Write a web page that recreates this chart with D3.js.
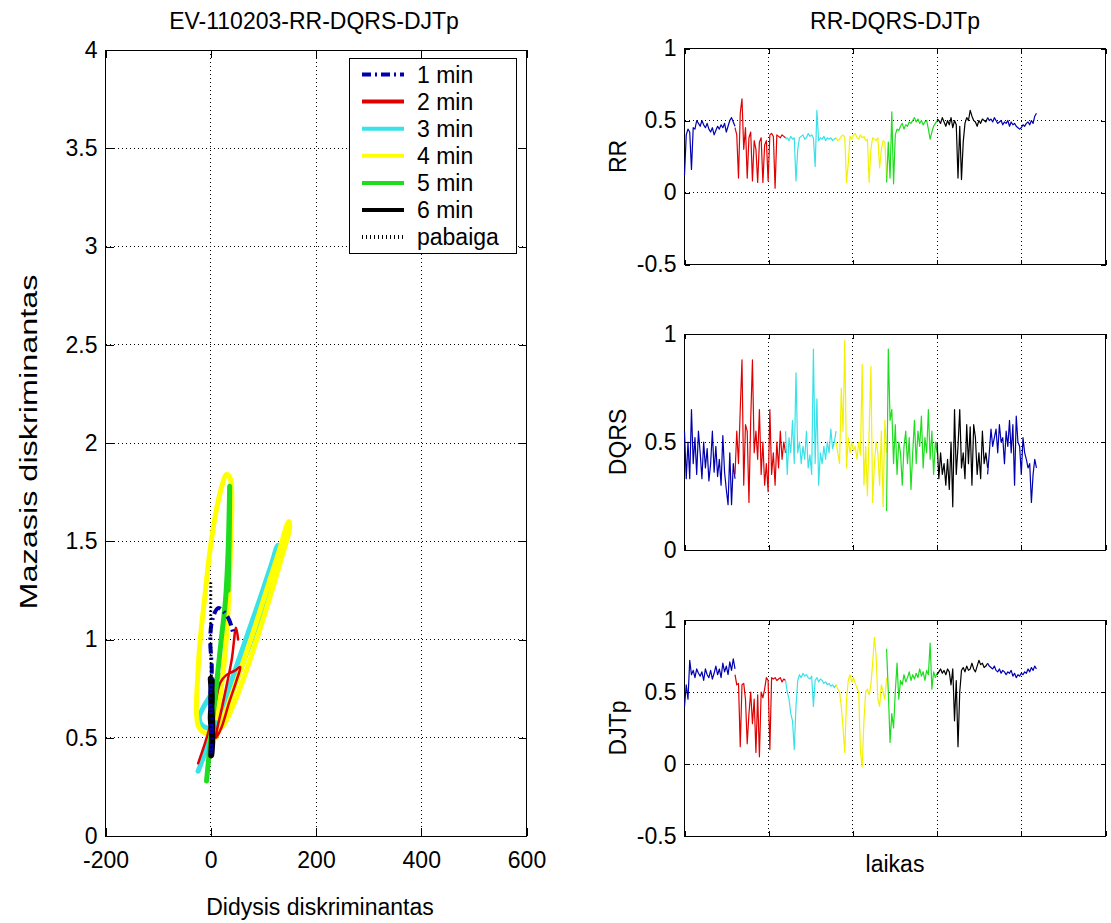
<!DOCTYPE html>
<html>
<head>
<meta charset="utf-8">
<script src="https://cdn.jsdelivr.net/npm/d3@7"></script>
<style>
  html, body { margin: 0; padding: 0; background: #fff; }
  svg { display: block; font-family: "Liberation Sans", Arial, sans-serif; }
</style>
</head>
<body>
<svg id="chart" width="1111" height="923"></svg>
<script>
// ---------------- DATA ----------------
const minuteLabels = ["1 min", "2 min", "3 min", "4 min", "5 min", "6 min", "pabaiga"];
const minuteColors = ["#0000b0", "#e00000", "#38e2e8", "#ffff00", "#1edc1e", "#000000", "#000000"];
const seriesColors = ["#0000b0", "#e00000", "#38e2e8", "#f2f200", "#1edc1e", "#000000", "#0000b0"];

// left panel: discriminant trajectories [Didysis, Mazasis]
const traj1 = [[0,0.42],[2,0.55],[-1,0.70],[2,0.85],[-1,1.00],[3,1.10],[14,1.16],[25,1.14],[35,1.10],[42,1.04]];
const traj2 = [[-24,0.37],[-10,0.48],[5,0.62],[18,0.78],[30,0.82],[45,0.84],[56,0.86],[50,0.80],[35,0.68],[20,0.55],[10,0.50],[25,0.70],[40,0.90],[48,1.06],[52,1.00]];
const traj3 = [[-24,0.33],[0,0.50],[30,0.72],[60,0.95],[90,1.18],[115,1.38],[128,1.48],[132,1.45],[110,1.25],[80,1.02],[50,0.80],[25,0.63],[5,0.55],[-15,0.56],[-22,0.60],[-15,0.65],[0,0.72],[15,0.82]];
const traj4 = [[10,0.50],[40,0.72],[70,0.95],[100,1.20],[130,1.45],[148,1.60],[150,1.57],[135,1.42],[105,1.15],[75,0.90],[45,0.68],[20,0.55],[-5,0.52],[-22,0.55],[-27,0.62],[-25,0.80],[-20,1.00],[-12,1.20],[-3,1.42],[8,1.62],[20,1.77],[30,1.84],[37,1.82],[40,1.72],[38,1.50],[34,1.20],[28,0.95],[20,0.75],[12,0.60]];
const traj5 = [[-8,0.28],[0,0.50],[10,0.75],[20,1.00],[28,1.20],[33,1.45],[35,1.65],[36,1.78],[35,1.50],[33,1.25]];
const traj6 = [[0,0.80],[2,0.70],[0,0.60],[3,0.50],[1,0.41],[3,0.55],[1,0.68],[2,0.79]];
const trajEnd = [[0,1.29],[0,1.00],[1,0.80],[0,0.60],[0,0.40]];

// right panels: time (s) segments
const segStart = [0, 60, 120, 180, 240, 300, 360];
const segEnd   = [60, 120, 180, 240, 300, 360, 418];

const rr1 = [0.12,0.40,0.44,0.42,0.16,0.45,0.44,0.50,0.48,0.46,0.50,0.47,0.45,0.48,0.44,0.42,0.45,0.40,0.43,0.46,0.44,0.47,0.45,0.48,0.42,0.46,0.50,0.52,0.49,0.46];
const rr2 = [0.45,0.40,0.10,0.55,0.65,0.30,0.45,0.10,0.38,0.42,0.08,0.36,0.30,0.07,0.35,0.38,0.07,0.33,0.36,0.08,0.40,0.41,0.39,0.03,0.40,0.39,0.38,0.40,0.39,0.38];
const rr3 = [0.37,0.38,0.36,0.39,0.37,0.38,0.08,0.30,0.38,0.39,0.40,0.37,0.38,0.41,0.39,0.40,0.38,0.18,0.57,0.36,0.38,0.37,0.39,0.36,0.38,0.37,0.38,0.36,0.37,0.38];
const rr4 = [0.38,0.36,0.37,0.39,0.40,0.38,0.07,0.20,0.39,0.37,0.40,0.41,0.38,0.37,0.40,0.38,0.39,0.36,0.37,0.07,0.30,0.38,0.37,0.36,0.38,0.17,0.30,0.36,0.35,0.10];
const rr5 = [0.07,0.35,0.10,0.56,0.06,0.40,0.44,0.43,0.46,0.48,0.44,0.47,0.46,0.49,0.48,0.50,0.52,0.49,0.51,0.48,0.50,0.47,0.49,0.50,0.44,0.37,0.42,0.46,0.48,0.50];
const rr6 = [0.51,0.50,0.48,0.52,0.49,0.46,0.50,0.47,0.52,0.45,0.50,0.47,0.10,0.46,0.09,0.35,0.48,0.52,0.50,0.57,0.53,0.50,0.49,0.46,0.50,0.48,0.51,0.50,0.49,0.52];
const rr7 = [0.52,0.50,0.51,0.49,0.52,0.50,0.48,0.49,0.50,0.47,0.49,0.48,0.50,0.46,0.49,0.47,0.48,0.46,0.45,0.44,0.45,0.47,0.46,0.48,0.49,0.47,0.50,0.48,0.53,0.55];

const dq1 = [0.55,0.33,0.50,0.33,0.65,0.40,0.52,0.35,0.55,0.45,0.33,0.50,0.38,0.47,0.32,0.40,0.55,0.36,0.48,0.34,0.42,0.30,0.53,0.36,0.28,0.21,0.45,0.21,0.40,0.33];
const dq2 = [0.35,0.55,0.40,0.65,0.88,0.30,0.58,0.55,0.22,0.60,0.88,0.45,0.55,0.42,0.65,0.35,0.50,0.30,0.40,0.27,0.65,0.35,0.45,0.30,0.50,0.38,0.55,0.42,0.50,0.45];
const dq3 = [0.55,0.35,0.52,0.45,0.60,0.40,0.82,0.45,0.50,0.40,0.48,0.42,0.55,0.38,0.44,0.35,0.93,0.40,0.70,0.30,0.45,0.40,0.48,0.42,0.50,0.45,0.56,0.47,0.50,0.55];
const dq4 = [0.50,0.45,0.40,0.75,0.55,0.97,0.38,0.52,0.45,0.50,0.46,0.48,0.42,0.50,0.44,0.86,0.30,0.48,0.25,0.55,0.85,0.22,0.40,0.50,0.45,0.30,0.55,0.20,0.60,0.45];
const dq5 = [0.18,0.93,0.60,0.65,0.40,0.58,0.35,0.50,0.45,0.30,0.48,0.55,0.40,0.52,0.28,0.45,0.60,0.40,0.55,0.48,0.62,0.38,0.52,0.45,0.65,0.42,0.55,0.35,0.50,0.45];
const dq6 = [0.50,0.33,0.45,0.35,0.40,0.30,0.42,0.28,0.50,0.20,0.65,0.35,0.48,0.65,0.38,0.45,0.33,0.58,0.40,0.57,0.30,0.58,0.52,0.35,0.45,0.33,0.55,0.40,0.45,0.38];
const dq7 = [0.35,0.45,0.56,0.48,0.52,0.56,0.45,0.58,0.50,0.52,0.40,0.55,0.48,0.60,0.45,0.58,0.30,0.62,0.50,0.48,0.35,0.52,0.45,0.42,0.38,0.40,0.22,0.35,0.42,0.38];

const dj1 = [0.40,0.55,0.45,0.72,0.62,0.65,0.60,0.66,0.63,0.61,0.64,0.58,0.66,0.62,0.60,0.65,0.59,0.63,0.68,0.62,0.66,0.60,0.70,0.64,0.68,0.62,0.71,0.65,0.73,0.66];
const dj2 = [0.62,0.55,0.56,0.12,0.55,0.56,0.45,0.14,0.35,0.50,0.28,0.45,0.08,0.48,0.05,0.50,0.46,0.52,0.60,0.58,0.10,0.60,0.59,0.60,0.58,0.59,0.60,0.57,0.59,0.58];
const dj3 = [0.58,0.50,0.45,0.35,0.30,0.10,0.40,0.58,0.62,0.60,0.63,0.61,0.62,0.60,0.59,0.61,0.40,0.58,0.60,0.57,0.59,0.58,0.56,0.57,0.55,0.56,0.54,0.55,0.53,0.55];
const dj4 = [0.55,0.52,0.50,0.40,0.25,0.08,0.45,0.58,0.62,0.57,0.60,0.56,0.53,0.50,0.08,-0.02,0.30,0.50,0.52,0.48,0.55,0.70,0.88,0.75,0.45,0.40,0.55,0.50,0.45,0.60];
const dj5 = [0.80,0.50,0.15,0.35,0.25,0.50,0.70,0.45,0.58,0.55,0.62,0.57,0.60,0.64,0.58,0.62,0.59,0.63,0.60,0.66,0.61,0.64,0.58,0.65,0.62,0.84,0.52,0.64,0.60,0.63];
const dj6 = [0.62,0.64,0.66,0.63,0.65,0.62,0.66,0.64,0.55,0.66,0.30,0.58,0.12,0.50,0.65,0.67,0.64,0.68,0.65,0.66,0.70,0.66,0.64,0.68,0.72,0.69,0.70,0.67,0.68,0.70];
const dj7 = [0.70,0.68,0.67,0.66,0.68,0.65,0.64,0.66,0.63,0.65,0.64,0.62,0.64,0.63,0.65,0.61,0.63,0.60,0.62,0.61,0.63,0.62,0.64,0.63,0.66,0.64,0.67,0.65,0.68,0.66];

const panelNames = ["RR", "DQRS", "DJTp"];
const panelDomains = [[-0.5, 1], [0, 1], [-0.5, 1]];
const panelTicks = [[-0.5, 0, 0.5, 1], [0, 0.5, 1], [-0.5, 0, 0.5, 1]];
const panelSeries = [
  [rr1, rr2, rr3, rr4, rr5, rr6, rr7],
  [dq1, dq2, dq3, dq4, dq5, dq6, dq7],
  [dj1, dj2, dj3, dj4, dj5, dj6, dj7]
];
const leftXTicks = [-200, 0, 200, 400, 600];
const leftYTicks = [0, 0.5, 1, 1.5, 2, 2.5, 3, 3.5, 4];
const timeTicks = [0, 100, 200, 300, 400, 500];

// ---------------- DRAW ----------------
const svg = d3.select("#chart");
const FONT = 23;
const fmt = d => String(d);

function boxAxes(g, x, y, xt, yt, tickLen, showXLabels, showYLabels) {
  const [x0, x1] = x.range();
  const [y0, y1] = y.range(); // y0 bottom, y1 top
  const grid = g.append("g").attr("stroke", "#000").attr("stroke-width", 1).attr("stroke-dasharray", "1,3");
  xt.filter(v => v > x.domain()[0] && v < x.domain()[1]).forEach(v => {
    grid.append("line").attr("x1", x(v)).attr("x2", x(v)).attr("y1", y1).attr("y2", y0).attr("shape-rendering", "crispEdges");
  });
  yt.filter(v => v > y.domain()[0] && v < y.domain()[1]).forEach(v => {
    grid.append("line").attr("x1", x0).attr("x2", x1).attr("y1", y(v)).attr("y2", y(v)).attr("shape-rendering", "crispEdges");
  });
  const ax = g.append("g");
  const bottom = ax.append("g").attr("transform", `translate(0,${y0})`)
    .call(d3.axisBottom(x).tickValues(xt).tickSize(-tickLen).tickPadding(10).tickFormat(showXLabels ? fmt : ""));
  ax.append("g").attr("transform", `translate(0,${y1})`)
    .call(d3.axisTop(x).tickValues(xt).tickSize(-tickLen).tickFormat(""));
  ax.append("g").attr("transform", `translate(${x0},0)`)
    .call(d3.axisLeft(y).tickValues(yt).tickSize(-tickLen).tickPadding(8).tickFormat(showYLabels ? fmt : ""));
  ax.append("g").attr("transform", `translate(${x1},0)`)
    .call(d3.axisRight(y).tickValues(yt).tickSize(-tickLen).tickFormat(""));
  ax.selectAll(".domain").remove();
  ax.selectAll(".tick line").attr("stroke", "#000").attr("shape-rendering", "crispEdges");
  ax.selectAll(".tick text").attr("font-size", FONT).attr("font-family", "Liberation Sans, Arial, sans-serif").attr("fill", "#000");
  g.append("rect").attr("x", x0).attr("y", y1).attr("width", x1 - x0).attr("height", y0 - y1)
    .attr("fill", "none").attr("stroke", "#000").attr("stroke-width", 1).attr("shape-rendering", "crispEdges");
  return bottom;
}

// ---- Left panel ----
const xL = d3.scaleLinear().domain([-200, 600]).range([105.5, 526.5]);
const yL = d3.scaleLinear().domain([0, 4]).range([836, 50]);
const gL = svg.append("g");
const xb = boxAxes(gL, xL, yL, leftXTicks, leftYTicks, 8, true, true);
xb.selectAll(".tick text").attr("dy", "0.95em");

svg.append("defs").append("clipPath").attr("id", "clipL")
  .append("rect").attr("x", 105.5).attr("y", 50).attr("width", 421).attr("height", 786);

const lineL = d3.line().x(d => xL(d[0])).y(d => yL(d[1])).curve(d3.curveCatmullRom.alpha(0.5));
const trajs = [traj1, traj2, traj3, traj4, traj5, traj6, trajEnd];
const trajW = [4, 2.5, 5, 5, 5, 6, 3];
const trajDash = ["10,4,2,4", null, null, null, null, null, "1.5,2.5"];
const order = [2, 3, 1, 4, 5, 0, 6];
const gLines = gL.append("g").attr("clip-path", "url(#clipL)");
order.forEach(i => {
  gLines.append("path").datum(trajs[i])
    .attr("d", lineL).attr("fill", "none")
    .attr("stroke", minuteColors[i]).attr("stroke-width", trajW[i])
    .attr("stroke-linejoin", "round").attr("stroke-linecap", i === 0 || i === 6 ? "butt" : "round")
    .attr("stroke-dasharray", trajDash[i]);
});

// legend
const lg = gL.append("g");
lg.append("rect").attr("x", 349.5).attr("y", 58.5).attr("width", 166.5).attr("height", 194.5)
  .attr("fill", "#fff").attr("stroke", "#000").attr("stroke-width", 1).attr("shape-rendering", "crispEdges");
minuteLabels.forEach((lab, i) => {
  const yy = 74.5 + i * 27.1;
  lg.append("line").attr("x1", 362).attr("x2", 404).attr("y1", yy).attr("y2", yy)
    .attr("stroke", minuteColors[i]).attr("stroke-width", 4)
    .attr("stroke-dasharray", i === 0 ? "9,4,2,4" : (i === 6 ? "1,3" : null));
  lg.append("text").attr("x", 417).attr("y", yy).attr("dy", "0.35em")
    .attr("font-size", FONT).text(lab);
});

// labels
svg.append("text").attr("x", 314).attr("y", 29).attr("text-anchor", "middle").attr("font-size", FONT)
  .text("EV-110203-RR-DQRS-DJTp");
svg.append("text").attr("x", 320).attr("y", 915).attr("text-anchor", "middle").attr("font-size", FONT)
  .text("Didysis diskriminantas");
svg.append("text").attr("transform", "translate(37,442) rotate(-90)").attr("text-anchor", "middle")
  .attr("font-size", FONT).attr("textLength", 335).attr("lengthAdjust", "spacingAndGlyphs")
  .text("Mazasis diskriminantas");

// ---- Right panels ----
const xR = d3.scaleLinear().domain([0, 500]).range([684.5, 1105.5]);
const tops = [48.5, 334, 620];
const PH = 216;
panelNames.forEach((name, p) => {
  const y = d3.scaleLinear().domain(panelDomains[p]).range([tops[p] + PH, tops[p]]);
  const g = svg.append("g");
  boxAxes(g, xR, y, timeTicks, panelTicks[p], 5, false, true);
  const line = d3.line().x(d => xR(d[0])).y(d => y(d[1]));
  panelSeries[p].forEach((vals, k) => {
    const n = vals.length;
    const pts = vals.map((v, i) => [segStart[k] + i * (segEnd[k] - segStart[k]) / (n - 1), v]);
    g.append("path").datum(pts).attr("d", line).attr("fill", "none")
      .attr("stroke", seriesColors[k]).attr("stroke-width", 1.2).attr("stroke-linejoin", "round");
  });
  g.append("text").attr("transform", `translate(626,${tops[p] + PH / 2}) rotate(-90)`)
    .attr("text-anchor", "middle").attr("font-size", FONT).text(name);
});
svg.append("text").attr("x", 895).attr("y", 29).attr("text-anchor", "middle").attr("font-size", FONT)
  .text("RR-DQRS-DJTp");
svg.append("text").attr("x", 895).attr("y", 872).attr("text-anchor", "middle").attr("font-size", FONT)
  .text("laikas");
</script>
</body>
</html>
